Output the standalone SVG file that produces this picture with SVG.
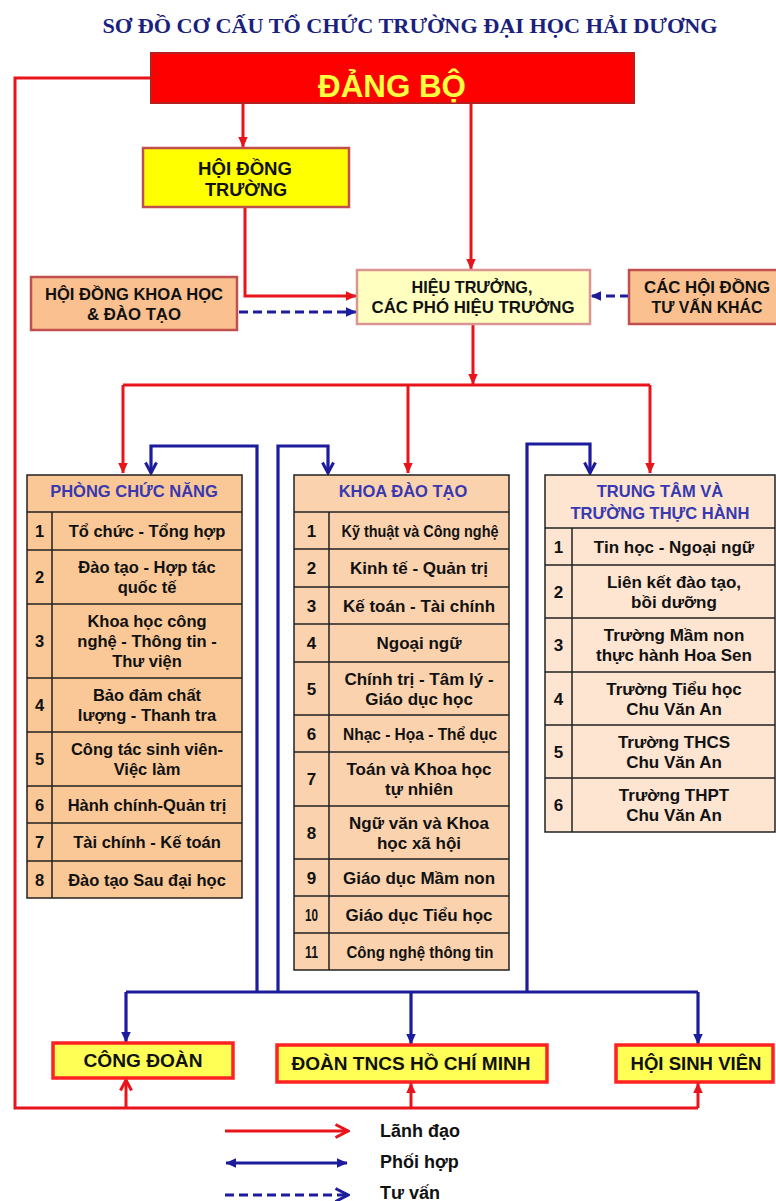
<svg xmlns="http://www.w3.org/2000/svg" width="776" height="1201" viewBox="0 0 776 1201">
<style>
.t{font-family:"Liberation Sans",Arial,sans-serif;font-weight:bold;fill:#111;text-anchor:middle}
.c{font-size:17px}
.cl{font-size:16.5px}
.h{fill:#3838b0;font-size:16.5px}
.red{stroke:#e8141b;stroke-width:3;fill:none}
.blue{stroke:#1c1c9c;stroke-width:3.2;fill:none}
.dash{stroke-dasharray:9 5}
.grid{stroke:#222;stroke-width:1.5;fill:none}
</style>
<defs>
<marker id="rTri" viewBox="0 0 10 10" refX="9.5" refY="5" markerWidth="11" markerHeight="11" markerUnits="userSpaceOnUse" orient="auto"><path d="M0,0.5 L10,5 L0,9.5 z" fill="#e8141b"/></marker>
<marker id="bTri" viewBox="0 0 10 10" refX="9.5" refY="5" markerWidth="11" markerHeight="11" markerUnits="userSpaceOnUse" orient="auto"><path d="M0,0.5 L10,5 L0,9.5 z" fill="#1c1c9c"/></marker>
<marker id="bTriS" viewBox="0 0 10 10" refX="0.5" refY="5" markerWidth="11" markerHeight="11" markerUnits="userSpaceOnUse" orient="auto"><path d="M10,0.5 L0,5 L10,9.5 z" fill="#1c1c9c"/></marker>
<marker id="bV" viewBox="0 0 14 14" refX="12" refY="7" markerWidth="14" markerHeight="14" markerUnits="userSpaceOnUse" orient="auto"><path d="M1.5,1.5 L12,7 L1.5,12.5" fill="none" stroke="#1c1c9c" stroke-width="3"/></marker>
<marker id="rV" viewBox="0 0 14 14" refX="12" refY="7" markerWidth="14" markerHeight="14" markerUnits="userSpaceOnUse" orient="auto"><path d="M1.5,1.5 L12,7 L1.5,12.5" fill="none" stroke="#e8141b" stroke-width="3"/></marker>
<marker id="rVL" viewBox="0 0 16 16" refX="14" refY="8" markerWidth="16" markerHeight="16" markerUnits="userSpaceOnUse" orient="auto"><path d="M1.5,1.5 L14,8 L1.5,14.5" fill="none" stroke="#e8141b" stroke-width="3"/></marker>
<marker id="bVL" viewBox="0 0 16 16" refX="14" refY="8" markerWidth="16" markerHeight="16" markerUnits="userSpaceOnUse" orient="auto"><path d="M1.5,1.5 L14,8 L1.5,14.5" fill="none" stroke="#1c1c9c" stroke-width="3"/></marker>
</defs>
<rect width="776" height="1201" fill="#fff"/>

<text x="410" y="33" font-family="'Liberation Serif','Times New Roman',serif" font-weight="bold" font-size="21" fill="#1b1f7d" text-anchor="middle" textLength="615" lengthAdjust="spacingAndGlyphs">SƠ ĐỒ CƠ CẤU TỔ CHỨC TRƯỜNG ĐẠI HỌC HẢI DƯƠNG</text>

<g id="connectors">
<path class="red" d="M243,103 V147" marker-end="url(#rTri)"/>
<path class="red" d="M471,103 V269" marker-end="url(#rTri)"/>
<path class="red" d="M245,207 V296 H356" marker-end="url(#rTri)"/>
<path class="red" d="M473,324 V384" marker-end="url(#rTri)"/>
<path class="red" d="M123,385 H650"/>
<path class="red" d="M123,385 V473" marker-end="url(#rTri)"/>
<path class="red" d="M408,385 V473" marker-end="url(#rTri)"/>
<path class="red" d="M650,385 V473" marker-end="url(#rTri)"/>
<path class="red" d="M151,78 H15 V1108 H698"/>
<path class="red" d="M126,1108 V1080" marker-end="url(#rV)"/>
<path class="red" d="M411,1108 V1083" stroke-width="4" marker-end="url(#rTri)"/>
<path class="red" d="M698,1108 V1083" marker-end="url(#rTri)"/>
<path class="blue" d="M257,992 V446 H151 V473" marker-end="url(#bV)"/>
<path class="blue" d="M278,992 V446 H328 V473" marker-end="url(#bV)"/>
<path class="blue" d="M527,992 V444 H590 V473" marker-end="url(#bV)"/>
<path class="blue" d="M126,992 H698"/>
<path class="blue" d="M126,992 V1042" marker-end="url(#bTri)"/>
<path class="blue" d="M411,992 V1044" marker-end="url(#bTri)"/>
<path class="blue" d="M698,992 V1044" marker-end="url(#bTri)"/>
<path class="blue dash" d="M239,312 H356" marker-end="url(#bTri)"/>
<path class="blue dash" d="M629,296 H591" marker-end="url(#bTri)"/>
</g>

<g id="dang-bo">
<rect x="151" y="53" width="483" height="50" fill="#ff0000" stroke="#b82020" stroke-width="2"/>
<text class="t" x="392" y="97" font-size="31" style="fill:#ffff40" textLength="148" lengthAdjust="spacingAndGlyphs">ĐẢNG BỘ</text>
</g>

<g id="hoi-dong-truong">
<rect x="143" y="148" width="206" height="59" fill="#ffff00" stroke="#c0504d" stroke-width="2.5"/>
<text class="t" x="245" y="175" font-size="18" textLength="94" lengthAdjust="spacingAndGlyphs">HỘI ĐỒNG</text>
<text class="t" x="246" y="196" font-size="18" textLength="82" lengthAdjust="spacingAndGlyphs">TRƯỜNG</text>
</g>

<g id="hoi-dong-khoa-hoc">
<rect x="31" y="277" width="206" height="53" fill="#fac090" stroke="#c0504d" stroke-width="2.5"/>
<text class="t" x="134" y="300" font-size="16.5" textLength="178" lengthAdjust="spacingAndGlyphs">HỘI ĐỒNG KHOA HỌC</text>
<text class="t" x="134" y="320" font-size="16.5" textLength="94" lengthAdjust="spacingAndGlyphs">&amp; ĐÀO TẠO</text>
</g>

<g id="hieu-truong">
<rect x="357" y="270" width="233" height="54" fill="#ffffc0" stroke="#d99694" stroke-width="2.5"/>
<text class="t" x="472" y="293" font-size="16.5" textLength="121" lengthAdjust="spacingAndGlyphs">HIỆU TRƯỞNG,</text>
<text class="t" x="473" y="313" font-size="16.5" textLength="203" lengthAdjust="spacingAndGlyphs">CÁC PHÓ HIỆU TRƯỞNG</text>
</g>

<g id="hoi-dong-tu-van">
<rect x="629" y="270" width="152" height="54" fill="#fac090" stroke="#c0504d" stroke-width="2.5"/>
<text class="t" x="707" y="293" font-size="16.5" textLength="126" lengthAdjust="spacingAndGlyphs">CÁC HỘI ĐỒNG</text>
<text class="t" x="707" y="313" font-size="16.5" textLength="111" lengthAdjust="spacingAndGlyphs">TƯ VẤN KHÁC</text>
</g>

<g id="phong-chuc-nang">
<rect x="27" y="475" width="215" height="423" fill="#fac896"/>
<path class="grid" d="M27,475 H242 V898 H27 Z M27,512 H242 M27,550 H242 M27,604 H242 M27,678 H242 M27,732 H242 M27,786 H242 M27,823 H242 M27,861 H242 M52,512 V898"/>
<text class="t h" x="134" y="497">PHÒNG CHỨC NĂNG</text>
<g class="t cl">
<text x="39.5" y="537">1</text><text x="147" y="537">Tổ chức - Tổng hợp</text>
<text x="39.5" y="583">2</text><text x="147" y="573">Đào tạo - Hợp tác</text><text x="147" y="593">quốc tế</text>
<text x="39.5" y="647">3</text><text x="147" y="627">Khoa học công</text><text x="147" y="647">nghệ - Thông tin -</text><text x="147" y="667">Thư viện</text>
<text x="39.5" y="711">4</text><text x="147" y="701">Bảo đảm chất</text><text x="147" y="721">lượng - Thanh tra</text>
<text x="39.5" y="765">5</text><text x="147" y="755">Công tác sinh viên-</text><text x="147" y="775">Việc làm</text>
<text x="39.5" y="810.5">6</text><text x="147" y="810.5">Hành chính-Quản trị</text>
<text x="39.5" y="848">7</text><text x="147" y="848">Tài chính - Kế toán</text>
<text x="39.5" y="885.5">8</text><text x="147" y="885.5">Đào tạo Sau đại học</text>
</g>
</g>

<g id="khoa-dao-tao">
<rect x="294" y="475" width="215" height="495" fill="#fbd2ae"/>
<path class="grid" d="M294,475 H509 V970 H294 Z M294,512 H509 M294,549 H509 M294,587 H509 M294,624 H509 M294,662 H509 M294,715 H509 M294,752 H509 M294,806 H509 M294,859 H509 M294,896 H509 M294,933 H509 M329,512 V970"/>
<text class="t h" x="403" y="497">KHOA ĐÀO TẠO</text>
<g class="t c">
<text x="311.5" y="536.5">1</text><text x="420" y="536.5" textLength="157" lengthAdjust="spacingAndGlyphs">Kỹ thuật và Công nghệ</text>
<text x="311.5" y="574">2</text><text x="419" y="574">Kinh tế - Quản trị</text>
<text x="311.5" y="611.5">3</text><text x="419" y="611.5">Kế toán - Tài chính</text>
<text x="311.5" y="649">4</text><text x="419" y="649">Ngoại ngữ</text>
<text x="311.5" y="694.5">5</text><text x="419" y="684.5">Chính trị - Tâm lý -</text><text x="419" y="704.5">Giáo dục học</text>
<text x="311.5" y="739.5">6</text><text x="420" y="739.5" textLength="154" lengthAdjust="spacingAndGlyphs">Nhạc - Họa - Thể dục</text>
<text x="311.5" y="785">7</text><text x="419" y="775">Toán và Khoa học</text><text x="419" y="795">tự nhiên</text>
<text x="311.5" y="838.5">8</text><text x="419" y="828.5">Ngữ văn và Khoa</text><text x="419" y="848.5">học xã hội</text>
<text x="311.5" y="883.5">9</text><text x="419" y="883.5">Giáo dục Mầm non</text>
<text x="311.5" y="920.5" textLength="13" lengthAdjust="spacingAndGlyphs">10</text><text x="419" y="920.5">Giáo dục Tiểu học</text>
<text x="311.5" y="957.5" textLength="13" lengthAdjust="spacingAndGlyphs">11</text><text x="420" y="957.5" textLength="147" lengthAdjust="spacingAndGlyphs">Công nghệ thông tin</text>
</g>
</g>

<g id="trung-tam">
<rect x="545" y="475" width="230" height="357" fill="#fde5d1"/>
<path class="grid" d="M545,475 H775 V832 H545 Z M545,528 H775 M545,565 H775 M545,618 H775 M545,672 H775 M545,725 H775 M545,778 H775 M572,528 V832"/>
<text class="t h" x="660" y="497">TRUNG TÂM VÀ</text>
<text class="t h" x="660" y="519">TRƯỜNG THỰC HÀNH</text>
<g class="t c">
<text x="558.5" y="552.5">1</text><text x="674" y="552.5">Tin học - Ngoại ngữ</text>
<text x="558.5" y="597.5">2</text><text x="674" y="587.5">Liên kết đào tạo,</text><text x="674" y="607.5">bồi dưỡng</text>
<text x="558.5" y="651">3</text><text x="674" y="641">Trường Mầm non</text><text x="674" y="661">thực hành Hoa Sen</text>
<text x="558.5" y="704.5">4</text><text x="674" y="694.5">Trường Tiểu học</text><text x="674" y="714.5">Chu Văn An</text>
<text x="558.5" y="757.5">5</text><text x="674" y="747.5">Trường THCS</text><text x="674" y="767.5">Chu Văn An</text>
<text x="558.5" y="811">6</text><text x="674" y="801">Trường THPT</text><text x="674" y="821">Chu Văn An</text>
</g>
</g>

<g id="cong-doan">
<rect x="53" y="1043" width="180" height="35" fill="#ffff55" stroke="#ff2222" stroke-width="3.5"/>
<text class="t" x="143" y="1067" font-size="19" textLength="119" lengthAdjust="spacingAndGlyphs">CÔNG ĐOÀN</text>
</g>
<g id="doan-tncs">
<rect x="277" y="1045" width="270" height="37" fill="#ffff55" stroke="#ff2222" stroke-width="3.5"/>
<text class="t" x="411" y="1070" font-size="19" textLength="239" lengthAdjust="spacingAndGlyphs">ĐOÀN TNCS HỒ CHÍ MINH</text>
</g>
<g id="hoi-sinh-vien">
<rect x="616" y="1045" width="157" height="37" fill="#ffff55" stroke="#ff2222" stroke-width="3.5"/>
<text class="t" x="696" y="1070" font-size="19" textLength="131" lengthAdjust="spacingAndGlyphs">HỘI SINH VIÊN</text>
</g>

<g id="legend">
<path class="red" d="M225,1131 H348" marker-end="url(#rVL)"/>
<path class="blue" d="M226,1163 H347" marker-start="url(#bTriS)" marker-end="url(#bTri)"/>
<path class="blue dash" d="M225,1195 H348" marker-end="url(#bVL)"/>
<text class="t" x="380" y="1137" font-size="18" style="text-anchor:start">Lãnh đạo</text>
<text class="t" x="380" y="1168" font-size="18" style="text-anchor:start">Phối hợp</text>
<text class="t" x="380" y="1199" font-size="18" style="text-anchor:start">Tư vấn</text>
</g>
</svg>
